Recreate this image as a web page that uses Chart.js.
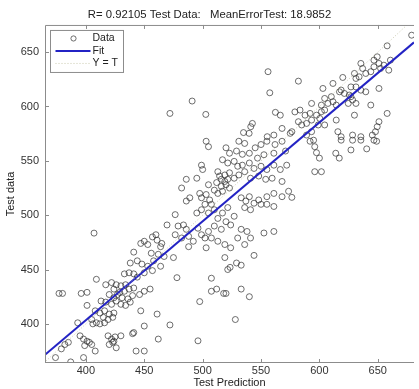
<!DOCTYPE html>
<html><head><meta charset="utf-8">
<script src="https://cdn.jsdelivr.net/npm/chart.js@4.4.0/dist/chart.umd.min.js"></script>
<style>html,body{margin:0;padding:0;background:#fff;overflow:hidden}#wrap{position:relative;width:419px;height:389px}</style>
</head><body><div id="wrap"><canvas id="c" width="419" height="389"></canvas></div>
<script>
const titleText = 'R= 0.92105 Test Data:   MeanErrorTest: 18.9852';
const xTitle = 'Test Prediction';
const yTitle = 'Test data';
const xTicks = [400, 450, 500, 550, 600, 650];
const yTicks = [400, 450, 500, 550, 600, 650];
const xRange = [365, 681];
const yRange = [364, 675];
const legendLabels = ['Data', 'Fit', 'Y = T'];

const testPrediction = [
441,456,462,467,458,464,438,444,448,453,457,433,437,441,444,450,409,417,422,426,430,434,424,429,433,437,441,420,424,427,431,436,440,446,450,455,401,413,417,422,430,434,438,408,412,416,420,424,415,419,423,405,409,406,412,416,393,447,461,472,450,440,441,395,398,401,403,399,405,408,419,422,424,420,426,430,423,382,385,379,374,398,443,450,462,377,380,396,401,426,387,425,
407,447,450,453,457,460,461,465,464,469.5,
475,478,519,529,533,521.5,523.5,544,507.5,507.5,512,518,520,533,540,497.5,528,496,
503,505,520,523,531,536,529,534,540,545,550,555,562,568,571,561,552.5,547,517,521.5,527,530,534,540,544,550,555,561,566.5,572,499,500,513,514.5,519,523,527,531,536,541,548,554,559.5,568,516,519,521.5,520,516,523,517,513,510,512,505,482,486,495,489,486,497.5,499,503,506,507.5,502,499,495,505,510,533,537,540,544,548,555,561,568,573.6,550,536,541,555,561,521.5,517,527,513,520,524,510,516,505,502,507.5,513,519,524,530,533,538,541,536,552.5,561,476.5,479,483.6,486,476.5,482,488,492,496,499,503,488,
592,595,596,597.5,600,614,617,618.6,627,628.4,635.5,640.5,646.7,649,596,601.7,576.4,
556,557.5,491,472,502.7,562.3,566.5,542.6,541.2,535,539.8,568,555.3,561,575,
679,658,582,620,603,611.6,618.6,630,635.5,631.3,634,637,639.7,644,646.7,649.5,651,646.7,652.4,655.2,660.8,659.4,617.2,621.4,625.6,627,631.3,635.5,639.7,651,604.5,610.2,611.6,607.3,601.7,593.3,614.4,627,624.7,631.3,628.4,644,579,583.4,587.7,592,597.5,601.7,604.5,600.3,593.3,589,584.8,582,576.4,614.4,615.8,630,658,651,649.5,648,645.3,628.4,635.5,618.6,589,593.3,599,604.5
];
const testData = [
466,465,464,462,458,453,456,458,455,453,449,446,447,446,443,447,441,436,438,436,435,436,432,429,430,432,433,427,424,427,424,423,426,427,430,432,417,421,420,418,418,417,420,412,410,412,409,410,406,404,406,404,401,400,400,401,401,412,409,399,398,391,392,389,386,384,383,380,381,375,389,386,384,381,378,389,383,381,383,377,369,369,375,375,386,428,428,428,429,421,365,388,
483.5,474,476,473,480,482,477,474,471,491,
461,442.5,461,456,454,450,452,463,442,430,432,428,428,432,425,420.5,404,384.4,
568,563,562,557,568,566,559,556,557,562,565,568,565,568,559,557,555.6,552.5,551,548,549.5,545,546,548,543,545,542,546,542,546,546,542,540,536,537,539,534,537,540,534,536,533,534,531,533,531,533,528,526.5,525,522,520,523,530,528,525,533,534,516,513,520,516,519,514,510,510,505,502,502,505,516,513,517,511,514,517,520,517,522,510,507,505,510,508,507,502,499,497,494,491,490,487,485,479,479,476,473,470,479,487,485,479,473,483.6,485,500.5,490,491,487,482,479,480.5,476,488,482,470,471,
568,569,563,557.5,552.5,557,552.5,569,560,569,569,561,569,568,540,540,516.4,
632,612.6,605,593.6,592.7,594.6,592,584.4,581.4,576,575.3,579.8,572.2,573.7,575.3,
665.6,655.8,623.3,626.7,616.6,621.2,615.1,630.4,639.6,625.8,627.3,635,630.4,632,642.6,645.7,639.6,636.5,635,638,642.6,633.4,613.5,612,610.5,618,618,615,613.5,616.6,607.4,609,604.4,602.8,601.3,602.8,601.3,609,602.8,602.8,606,601.3,595,596.7,592,593.6,592,595.2,596.7,589,587.5,584.4,583,586,576.8,587.5,576.8,592,593.6,586,581.4,576.8,573.7,573.7,572.2,572.2,573.7,576.8,583,583
];
const fitX = [365, 681];
const fitY = [371.5, 659];
const identityX = [364, 675];
const identityY = [364, 675];

const pts = (xs, ys) => xs.map((v, i) => ({x: v, y: ys[i]}));
const FONT = 'Arial, "Liberation Sans", Helvetica, sans-serif';
const dataColor = 'rgba(50,50,50,0.7)';
const fitColor = '#2323c4';
const identColor = 'rgba(185,185,150,0.75)';

const framePlugin = {
  id: 'frame',
  afterDatasetsDraw(chart) {
    const {ctx, chartArea: a, scales: {x, y}} = chart;
    ctx.save();
    ctx.strokeStyle = '#8c8c8c';
    ctx.lineWidth = 1;
    ctx.beginPath();
    ctx.moveTo(a.left + 0.5, a.bottom);
    ctx.lineTo(a.left + 0.5, a.top + 0.5);
    ctx.lineTo(a.right, a.top + 0.5);
    ctx.moveTo(a.left, a.bottom - 0.5);
    ctx.lineTo(a.right, a.bottom - 0.5);
    const tl = 4;
    xTicks.forEach(v => {
      const px = Math.round(x.getPixelForValue(v)) + 0.5;
      ctx.moveTo(px, a.bottom); ctx.lineTo(px, a.bottom - tl);
      ctx.moveTo(px, a.top); ctx.lineTo(px, a.top + tl);
    });
    yTicks.forEach(v => {
      const py = Math.round(y.getPixelForValue(v)) + 0.5;
      ctx.moveTo(a.left, py); ctx.lineTo(a.left + tl, py);
    });
    ctx.stroke();
    ctx.restore();
  },
  afterDraw(chart) {
    const {ctx, chartArea: a} = chart;
    const bx = a.left + 5.5, by = a.top + 5.5, bw = 73, bh = 42;
    ctx.save();
    ctx.fillStyle = '#fff';
    ctx.fillRect(bx, by, bw, bh);
    ctx.strokeStyle = '#8c8c8c';
    ctx.lineWidth = 1;
    ctx.strokeRect(bx, by, bw, bh);
    const rows = [by + 8, by + 20.5, by + 33];
    ctx.strokeStyle = dataColor;
    ctx.beginPath();
    ctx.arc(bx + 23, rows[0], 2.6, 0, Math.PI * 2);
    ctx.stroke();
    ctx.strokeStyle = fitColor; ctx.lineWidth = 2;
    ctx.beginPath(); ctx.moveTo(bx + 5, rows[1]); ctx.lineTo(bx + 40, rows[1]); ctx.stroke();
    ctx.strokeStyle = identColor; ctx.lineWidth = 1; ctx.setLineDash([1, 2]);
    ctx.beginPath(); ctx.moveTo(bx + 5, rows[2]); ctx.lineTo(bx + 40, rows[2]); ctx.stroke();
    ctx.setLineDash([]);
    ctx.fillStyle = '#222';
    ctx.font = '10.5px ' + FONT;
    ctx.textBaseline = 'middle';
    ctx.textAlign = 'left';
    legendLabels.forEach((t, i) => ctx.fillText(t, bx + 42, rows[i]));
    ctx.restore();
  }
};

new Chart(document.getElementById('c'), {
  type: 'scatter',
  data: {
    datasets: [
      {label: legendLabels[0], data: pts(testPrediction, testData), showLine: false,
       pointStyle: 'circle', pointRadius: 3, borderWidth: 1,
       borderColor: dataColor, backgroundColor: 'rgba(0,0,0,0)', order: 3},
      {label: legendLabels[1], data: pts(fitX, fitY), showLine: true, pointRadius: 0,
       borderColor: fitColor, borderWidth: 2, order: 2},
      {label: legendLabels[2], data: pts(identityX, identityY), showLine: true, pointRadius: 0,
       borderColor: identColor, borderWidth: 1, borderDash: [1, 2], order: 1}
    ]
  },
  options: {
    responsive: false,
    animation: false,
    events: [],
    layout: {padding: {left: 0, right: 0, top: 0, bottom: 0}},
    plugins: {
      legend: {display: false},
      tooltip: {enabled: false},
      title: {display: true, text: titleText, color: '#222',
        font: {family: FONT, size: 11.3, weight: 'normal', lineHeight: 1.2},
        padding: {top: 8, bottom: 3.4}}
    },
    scales: {
      x: {
        type: 'linear', min: xRange[0], max: xRange[1],
        afterBuildTicks: s => { s.ticks = xTicks.map(v => ({value: v})); },
        afterFit: s => { s.height = 26; },
        grid: {display: false, drawTicks: false},
        border: {display: false},
        ticks: {color: '#333', padding: 1, maxRotation: 0, autoSkip: false,
          font: {family: FONT, size: 11}},
        title: {display: true, text: xTitle, color: '#222', padding: {top: 0, bottom: -1},
          font: {family: FONT, size: 11}}
      },
      y: {
        type: 'linear', min: yRange[0], max: yRange[1],
        afterBuildTicks: s => { s.ticks = yTicks.map(v => ({value: v})); },
        afterFit: s => { s.width = 45; },
        grid: {display: false, drawTicks: false},
        border: {display: false},
        ticks: {color: '#333', padding: 6, autoSkip: false,
          font: {family: FONT, size: 11}},
        title: {display: true, text: yTitle, color: '#222', padding: {top: 4, bottom: 0},
          font: {family: FONT, size: 11}}
      }
    }
  },
  plugins: [framePlugin]
});
</script>
</body></html>
